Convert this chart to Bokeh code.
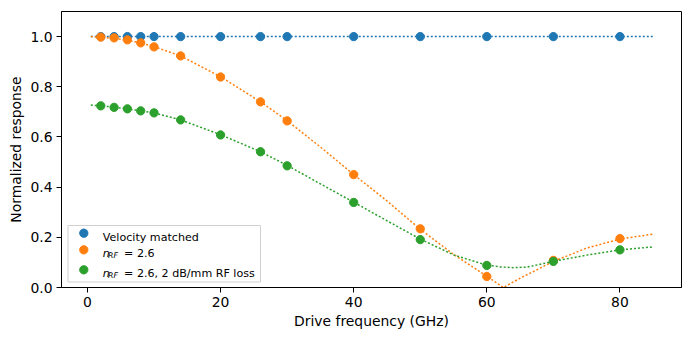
from bokeh.plotting import figure
from bokeh.models import Range1d, FixedTicker, PrintfTickFormatter, Label
from bokeh.embed import file_html
from bokeh.resources import INLINE

# Measured response at each drive frequency (GHz)
freq_pts = [2, 4, 6, 8, 10, 14, 20, 26, 30, 40, 50, 60, 70, 80]
vm_pts = [1.0] * len(freq_pts)
rf_pts = [0.998, 0.995, 0.987, 0.975, 0.959, 0.923, 0.839, 0.740, 0.664,
          0.450, 0.234, 0.044, 0.108, 0.195]
loss_pts = [0.724, 0.718, 0.712, 0.704, 0.696, 0.668, 0.608, 0.541, 0.485,
            0.339, 0.191, 0.088, 0.104, 0.150]

# Model curves
freq_model = [0.5, 2, 4, 6, 8, 10, 14, 20, 26, 30, 35, 40, 45, 50, 55, 60,
              62.5, 65, 70, 75, 80, 85]
vm_model = [1.0] * len(freq_model)
rf_model = [1.0, 0.997, 0.993, 0.985, 0.975, 0.960, 0.923, 0.840, 0.740,
            0.665, 0.560, 0.450, 0.345, 0.232, 0.132, 0.045, 0.0, 0.037,
            0.104, 0.157, 0.193, 0.213]
loss_freq_model = [0.5, 2, 4, 6, 8, 10, 14, 20, 26, 30, 35, 40, 45, 50, 55,
                   60, 62, 64, 66, 70, 75, 80, 85]
loss_model = [0.727, 0.724, 0.719, 0.712, 0.704, 0.696, 0.668, 0.609, 0.541,
              0.487, 0.413, 0.340, 0.266, 0.193, 0.130, 0.089, 0.082, 0.079,
              0.081, 0.104, 0.129, 0.150, 0.162]

series_labels = ["Velocity matched", "= 2.6", "= 2.6, 2 dB/mm RF loss"]
colors = ["#1f77b4", "#ff7f0e", "#2ca02c"]
y_ticks = [0.0, 0.2, 0.4, 0.6, 0.8, 1.0]
x_ticks = [0, 20, 40, 60, 80]

X0, X1 = -3.9, 89.25
Y0, Y1 = 0.0, 1.1
FW, FH = 620, 276
FONT = "DejaVu Sans"

p = figure(width=690, height=340, output_backend="svg", toolbar_location=None,
           x_range=Range1d(X0, X1), y_range=Range1d(Y0, Y1),
           min_border_left=61, min_border_right=9, min_border_top=11,
           min_border_bottom=53, frame_width=FW, frame_height=FH)
p.grid.visible = False
p.outline_line_color = "black"
p.outline_line_width = 1
p.background_fill_color = "white"
p.border_fill_color = "white"

for ax in (p.xaxis[0], p.yaxis[0]):
    ax.axis_line_color = "black"
    ax.major_tick_line_color = "black"
    ax.major_tick_out = 5
    ax.major_tick_in = 0
    ax.minor_tick_line_color = None
    ax.major_label_text_font = FONT
    ax.major_label_text_font_size = "13.9px"
    ax.major_label_text_color = "black"
    ax.axis_label_text_font = FONT
    ax.axis_label_text_font_size = "13.9px"
    ax.axis_label_text_font_style = "normal"
    ax.axis_label_text_color = "black"
    ax.major_label_standoff = 4

p.xaxis.ticker = FixedTicker(ticks=x_ticks)
p.yaxis.ticker = FixedTicker(ticks=y_ticks)
p.yaxis.formatter = PrintfTickFormatter(format="%.1f")
p.xaxis.axis_label = "Drive frequency (GHz)"
p.yaxis.axis_label = "Normalized response"
p.xaxis.axis_label_standoff = 3
p.yaxis.axis_label_standoff = 3

# dotted model curves with measured points on top
curves = [(freq_model, vm_model, freq_pts, vm_pts),
          (freq_model, rf_model, freq_pts, rf_pts),
          (loss_freq_model, loss_model, freq_pts, loss_pts)]
for (mx, my, px, py), c in zip(curves, colors):
    p.line(mx, my, line_color=c, line_width=1.5, line_dash="2 2")
    p.scatter(px, py, marker="circle", size=8.3, fill_color=c, line_color=c,
              line_width=1)


# legend laid out in frame pixels (from top-left of the plotting area)
def dx(px):
    return X0 + (px - 61) * (X1 - X0) / FW


def dy(py):
    return Y0 + (287 - py) * (Y1 - Y0) / FH


p.quad(left=[dx(67.5)], right=[dx(260)], top=[dy(225)], bottom=[dy(281.5)],
       fill_color="white", fill_alpha=0.8, line_color="#d0d0d0", line_width=1)

row_mid = [232.7, 249.3, 269.3]
row_base = [236.7, 253.3, 273.3]
key = p.scatter([dx(83.3)] * 3, [dy(v) for v in row_mid], marker="circle",
                size=8.3, fill_color=colors, line_color=colors, line_width=1)
key.level = "overlay"

lab_kw = dict(text_font=FONT, text_color="black", text_baseline="alphabetic",
              text_align="left")
p.add_layout(Label(x=dx(102.3), y=dy(row_base[0]), text=series_labels[0],
                   text_font_size="11.1px", **lab_kw))
for i in (1, 2):
    p.add_layout(Label(x=dx(102.3), y=dy(row_base[i]), text="n",
                       text_font_size="11.1px", text_font_style="italic", **lab_kw))
    p.add_layout(Label(x=dx(107.6), y=dy(row_base[i] + 1.3), text="RF",
                       text_font_size="7.8px", text_font_style="italic", **lab_kw))
    p.add_layout(Label(x=dx(123.6), y=dy(row_base[i]), text=series_labels[i],
                       text_font_size="11.1px", **lab_kw))

open("out.html", "w").write(file_html(p, INLINE))
